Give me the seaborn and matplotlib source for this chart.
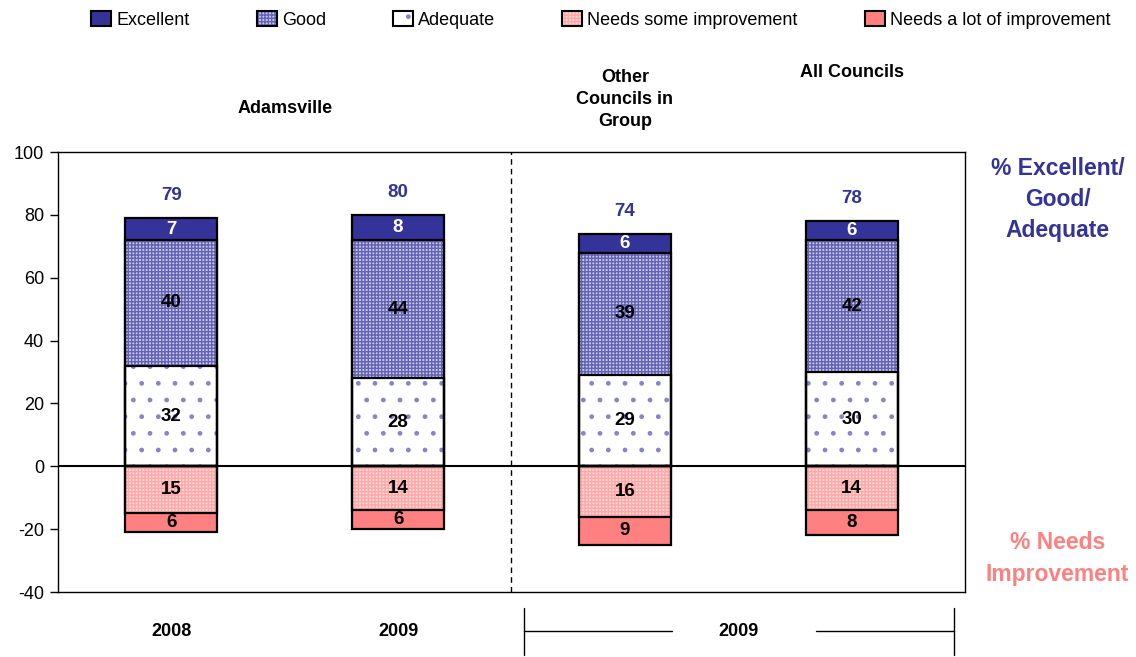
import matplotlib
matplotlib.use("Agg")
import matplotlib.pyplot as plt
import matplotlib.transforms as mtransforms
from matplotlib.patches import Patch
from matplotlib.legend_handler import HandlerTuple
import numpy as np
import seaborn as sns

# Survey results (% of respondents)
categories = ["Adamsville 2008", "Adamsville 2009", "Other Councils 2009", "All Councils 2009"]
excellent = [7, 8, 6, 6]
good = [40, 44, 39, 42]
adequate = [32, 28, 29, 30]
needs_some = [15, 14, 16, 14]
needs_lot = [6, 6, 9, 8]
period_labels = ["2008", "2009"]
group_labels = ["Adamsville", "Other\nCouncils in\nGroup", "All Councils"]

sns.set_theme(style="white")
plt.rcParams["font.family"] = ["Liberation Sans", "DejaVu Sans"]
plt.rcParams["text.color"] = "black"
plt.rcParams["axes.unicode_minus"] = False
plt.rcParams["hatch.linewidth"] = 1.0

NAVY = "#333399"
SALMON = "#ff8080"

fig = plt.figure(figsize=(11.36, 6.57), dpi=100)
ax = fig.add_axes([0.051, 0.0989, 0.7985, 0.6697])

exc = np.array(excellent)
gd = np.array(good)
adq = np.array(adequate)
ns = np.array(needs_some)
nl = np.array(needs_lot)

GOOD_FACE, GOOD_HATCH = "#c8c8e8", "#6262b4"
ADQ_HATCH = "#8585cc"
SOME_FACE, SOME_HATCH = "#ffdada", "#ffa8a8"

# Stacked layers drawn tallest first so each shorter layer sits on top
layers = [
    ("Excellent", adq + gd + exc, NAVY, NAVY, None),
    ("Good", adq + gd, GOOD_FACE, GOOD_HATCH, "+++++"),
    ("Adequate", adq, "white", ADQ_HATCH, "."),
    ("Needs a lot of improvement", -(ns + nl), SALMON, SALMON, None),
    ("Needs some improvement", -ns, SOME_FACE, SOME_HATCH, "+++++"),
]

BAR_W = 0.405
for name, vals, face, hcol, hatch in layers:
    before = len(ax.patches)
    sns.barplot(x=categories, y=vals, order=categories, color=face, saturation=1,
                width=BAR_W, errorbar=None, ax=ax)
    for p in ax.patches[before:]:
        p.set_edgecolor(hcol)
        p.set_facecolor(face)
        p.set_linewidth(0)
        if hatch:
            p.set_hatch(hatch)

# Black outlines for every segment boundary
for name, vals, face, hcol, hatch in layers:
    before = len(ax.patches)
    sns.barplot(x=categories, y=vals, order=categories, color="black", saturation=1,
                width=BAR_W, errorbar=None, ax=ax)
    for p in ax.patches[before:]:
        p.set_facecolor("none")
        p.set_edgecolor("black")
        p.set_linewidth(1.6)

ax.set_xlim(-0.5, 3.5)
ax.set_ylim(-40, 100)
ax.set_yticks(np.arange(-40, 101, 20))
ax.set_xticks([])
ax.set_xlabel("")
ax.set_ylabel("")
ax.tick_params(axis="y", left=True, length=6, width=1, color="black",
               labelsize=13, labelcolor="black", pad=4)
for s in ax.spines.values():
    s.set_visible(True)
    s.set_color("black")
    s.set_linewidth(1.0)

ax.axhline(0, color="black", lw=1.5, zorder=5)
ax.axvline(1.5, color="black", lw=1.0, ls=(0, (4, 3)), zorder=5)

# Segment value labels
LBL = dict(ha="center", va="center", fontsize=13.5, fontweight="bold", zorder=6)
x = np.arange(len(categories))
for i in x:
    ax.text(i, adq[i] + gd[i] + exc[i] / 2, str(exc[i]), color="white", **LBL)
    ax.text(i, adq[i] + gd[i] / 2, str(gd[i]), color="black", **LBL)
    ax.text(i, adq[i] / 2, str(adq[i]), color="black", **LBL)
    ax.text(i, -ns[i] / 2, str(ns[i]), color="black", **LBL)
    ax.text(i, -ns[i] - nl[i] / 2, str(nl[i]), color="black", **LBL)
    total = exc[i] + gd[i] + adq[i]
    ax.annotate(str(total), (i, total), xytext=(0, 16), textcoords="offset points",
                ha="center", va="center", color=NAVY, fontsize=13.5, fontweight="bold")

# Group headings above the plot
trans = mtransforms.blended_transform_factory(ax.transData, ax.transAxes)
HEAD = dict(transform=trans, ha="center", va="center", fontsize=13, fontweight="bold")
ax.text(0.5, 1.10, group_labels[0], **HEAD)
ax.text(2.0, 1.12, group_labels[1], linespacing=1.4, **HEAD)
ax.text(3.0, 1.18, group_labels[2], **HEAD)

# Period labels below the plot
ax.text(0, -0.0886, period_labels[0], **HEAD)
ax.text(1, -0.0886, period_labels[1], **HEAD)
ax.text(2.5, -0.0886, period_labels[1], **HEAD)
ax.plot([1.555, 2.208], [-0.0886, -0.0886], transform=trans, color="black", lw=1, clip_on=False)
ax.plot([2.843, 3.451], [-0.0886, -0.0886], transform=trans, color="black", lw=1, clip_on=False)
ax.plot([1.555, 1.555], [-0.036, -0.143], transform=trans, color="black", lw=1, clip_on=False)
ax.plot([3.451, 3.451], [-0.036, -0.143], transform=trans, color="black", lw=1, clip_on=False)

# Side annotations
fig.text(0.931, 0.696, "% Excellent/\nGood/\nAdequate", ha="center", va="center",
         color=NAVY, fontsize=16.5, fontweight="bold", linespacing=1.45)
fig.text(0.931, 0.150, "% Needs\nImprovement", ha="center", va="center",
         color=SALMON, fontsize=16.5, fontweight="bold", linespacing=1.45)

# Legend
def legend_handle(face, hcol, hatch):
    fill = Patch(facecolor=face, edgecolor=hcol, hatch=hatch, linewidth=0)
    edge = Patch(facecolor="none", edgecolor="black", linewidth=1.5)
    return (fill, edge)

handles = [
    legend_handle(NAVY, NAVY, None),
    legend_handle(GOOD_FACE, GOOD_HATCH, "+++++"),
    legend_handle("white", ADQ_HATCH, "."),
    legend_handle(SOME_FACE, SOME_HATCH, "+++++"),
    legend_handle(SALMON, SALMON, None),
]
labels = ["Excellent", "Good", "Adequate", "Needs some improvement", "Needs a lot of improvement"]
fig.legend(handles, labels, handler_map={tuple: HandlerTuple(ndivide=1, pad=0)},
           loc="upper center", bbox_to_anchor=(0.529, 1.0), ncol=5, frameon=False,
           fontsize=13, handlelength=1.1, handleheight=0.9, handletextpad=0.3,
           columnspacing=3.7, borderaxespad=0.2)

fig.savefig("out.png", dpi=100)
